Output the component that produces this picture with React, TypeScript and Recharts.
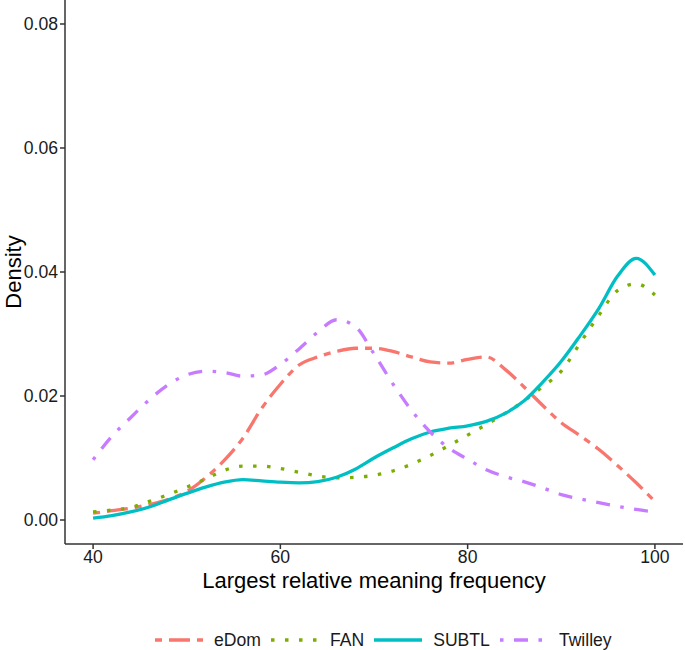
import { LineChart, Line, XAxis, YAxis, Label } from 'recharts'

// Kernel density curves for the largest relative meaning frequency, one per norms source
const xs = [40, 42, 44, 46, 48, 50, 52, 54, 56, 58, 60, 62, 64, 66, 68, 70, 72, 74, 76, 78, 80, 82, 84, 86, 88, 90, 92, 94, 96, 98, 100]
const eDom = [0.0011, 0.0015, 0.0019, 0.0025, 0.0033, 0.0046, 0.0068, 0.0096, 0.0132, 0.018, 0.0219, 0.025, 0.0263, 0.0272, 0.0277, 0.0277, 0.0272, 0.0263, 0.0255, 0.0253, 0.0259, 0.0263, 0.0243, 0.0215, 0.0185, 0.0157, 0.0136, 0.0114, 0.0088, 0.006, 0.003]
const fan = [0.0013, 0.0016, 0.002, 0.003, 0.0041, 0.0053, 0.0066, 0.008, 0.0087, 0.0087, 0.0083, 0.0077, 0.0071, 0.0068, 0.0069, 0.0072, 0.0079, 0.009, 0.0104, 0.012, 0.0137, 0.0154, 0.0172, 0.0192, 0.0215, 0.024, 0.0285, 0.033, 0.037, 0.0381, 0.0363]
const subtl = [0.0003, 0.0007, 0.0013, 0.0021, 0.0032, 0.0043, 0.0053, 0.0061, 0.0065, 0.0063, 0.0061, 0.006, 0.0062, 0.0069, 0.0082, 0.01, 0.0116, 0.0131, 0.0142, 0.0148, 0.0152, 0.0159, 0.0172, 0.0192, 0.0222, 0.0256, 0.0297, 0.0341, 0.0393, 0.0422, 0.0395]
const twilley = [0.0097, 0.0135, 0.0165, 0.0194, 0.0218, 0.0234, 0.024, 0.0238, 0.0232, 0.0234, 0.0251, 0.0276, 0.0303, 0.0323, 0.0312, 0.0268, 0.022, 0.0177, 0.0142, 0.0116, 0.0098, 0.0081, 0.007, 0.0062, 0.0052, 0.0041, 0.0034, 0.0028, 0.0022, 0.0017, 0.0013]

const xTicks = [40, 60, 80, 100]
const yTicks = [0, 0.02, 0.04, 0.06, 0.08]

const data = xs.map((x, i) => ({ x, eDom: eDom[i], FAN: fan[i], SUBTL: subtl[i], Twilley: twilley[i] }))

const FONT = '"Liberation Sans", Arial, Helvetica, sans-serif'
const LW = 3.3

// ggplot-style line types
const series = [
  { key: 'eDom', color: '#F8766D', dash: '7 7 21 7' },
  { key: 'FAN', color: '#7CAE00', dash: '3.5 10.5' },
  { key: 'SUBTL', color: '#00BFC4', dash: undefined },
  { key: 'Twilley', color: '#C77CFF', dash: '3.5 10.5 14 10.5' },
]

function ChartLegend() {
  return (
    <div
      style={{
        position: 'absolute',
        top: 628,
        left: 155,
        display: 'flex',
        alignItems: 'center',
        fontFamily: FONT,
        fontSize: 17.6,
        color: '#1a1a1a',
      }}
    >
      {series.map((s) => (
        <div key={s.key} style={{ display: 'flex', alignItems: 'center', marginRight: 10 }}>
          <svg width={48} height={24}>
            <line x1={0} y1={12} x2={48} y2={12} stroke={s.color} strokeWidth={LW} strokeDasharray={s.dash} />
          </svg>
          <span style={{ marginLeft: 11 }}>{s.key}</span>
        </div>
      ))}
    </div>
  )
}

export default function App() {
  return (
    <div style={{ position: 'absolute', left: 0, top: 0, width: 685, height: 650, background: '#fff' }}>
      <LineChart width={685} height={600} data={data} margin={{ top: 0, right: 2, left: 0, bottom: 0 }}>
        <XAxis
          dataKey="x"
          type="number"
          domain={[37, 103]}
          allowDataOverflow
          ticks={xTicks}
          tickSize={5}
          tickMargin={2}
          height={56}
          axisLine={{ stroke: '#333', strokeWidth: 1.5 }}
          tickLine={{ stroke: '#333', strokeWidth: 1.5 }}
          tick={{ fontSize: 17.6, fill: '#1a1a1a', fontFamily: FONT }}
        >
          <Label
            value="Largest relative meaning frequency"
            position="insideBottom"
            offset={12}
            style={{ fontSize: 22, fill: '#000', fontFamily: FONT }}
          />
        </XAxis>
        <YAxis
          type="number"
          domain={[-0.00387, 0.08387]}
          allowDataOverflow
          ticks={yTicks}
          tickFormatter={(v) => Number(v).toFixed(2)}
          width={65}
          tickSize={5}
          tickMargin={2}
          axisLine={{ stroke: '#333', strokeWidth: 1.5 }}
          tickLine={{ stroke: '#333', strokeWidth: 1.5 }}
          tick={{ fontSize: 17.6, fill: '#1a1a1a', fontFamily: FONT }}
        >
          <Label
            value="Density"
            angle={-90}
            position="insideLeft"
            offset={13}
            style={{ fontSize: 22, fill: '#000', fontFamily: FONT, textAnchor: 'middle' }}
          />
        </YAxis>
        {series.map((s) => (
          <Line
            key={s.key}
            dataKey={s.key}
            type="monotone"
            stroke={s.color}
            strokeWidth={LW}
            strokeDasharray={s.dash}
            strokeLinecap="butt"
            dot={false}
            activeDot={false}
            isAnimationActive={false}
          />
        ))}
      </LineChart>
      <ChartLegend />
    </div>
  )
}
